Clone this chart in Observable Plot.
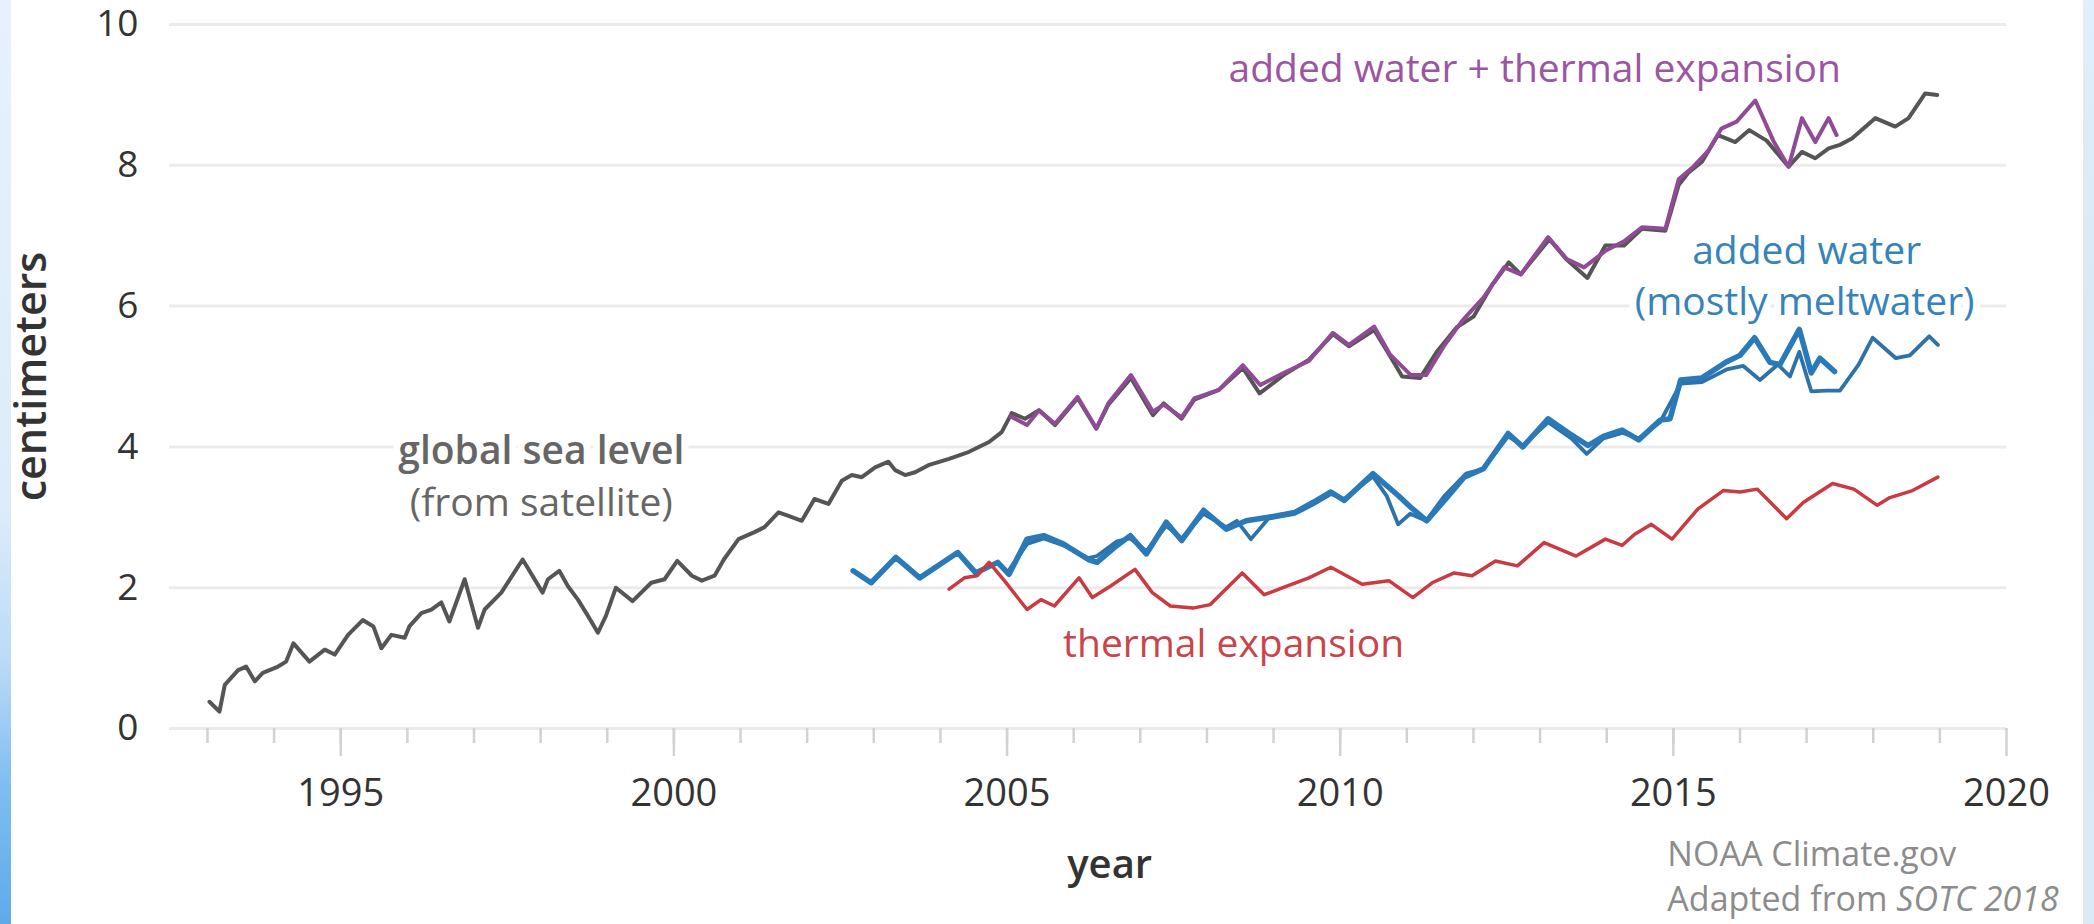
<!DOCTYPE html>
<html>
<head>
<meta charset="utf-8">
<script src="https://cdn.jsdelivr.net/npm/d3@7"></script>
<script src="https://cdn.jsdelivr.net/npm/@observablehq/plot@0.6"></script>
<style>
  html, body { margin: 0; padding: 0; background: #ffffff; }
  #wrap { position: relative; width: 2094px; height: 924px; overflow: hidden; background: #fff; }
  .strip-left { position: absolute; left: 0; top: 0; width: 11px; height: 924px;
    background: linear-gradient(to bottom, #e6f1fb 0%, #dcecfa 55%, #b9daf7 72%, #7fbdf1 85%, #5fa9ec 100%); }
  .strip-right { position: absolute; right: 0; top: 0; width: 11px; height: 924px;
    background: linear-gradient(to bottom, #e2eef9 0%, #d9e8f6 40%, #dde9f6 100%); }
</style>
</head>
<body>
<div id="wrap"></div>
<script>
// ---- data (year, centimeters) ----
const seaLevel = [
  [1993.03,0.38],[1993.18,0.24],[1993.26,0.62],[1993.46,0.83],[1993.58,0.88],[1993.71,0.67],[1993.83,0.79],
  [1994.06,0.88],[1994.18,0.95],[1994.29,1.21],[1994.53,0.95],[1994.76,1.12],[1994.91,1.05],
  [1995.11,1.33],[1995.33,1.54],[1995.49,1.45],[1995.61,1.14],[1995.76,1.33],[1995.96,1.29],
  [1996.03,1.45],[1996.21,1.64],[1996.36,1.69],[1996.51,1.79],[1996.63,1.52],[1996.86,2.12],
  [1997.06,1.43],[1997.16,1.69],[1997.41,1.93],[1997.73,2.40],
  [1998.03,1.93],[1998.11,2.12],[1998.28,2.24],[1998.41,2.02],[1998.56,1.83],[1998.71,1.60],[1998.86,1.36],[1998.98,1.60],
  [1999.13,2.00],[1999.38,1.81],[1999.66,2.07],[1999.86,2.12],
  [2000.05,2.38],[2000.27,2.17],[2000.42,2.10],[2000.61,2.17],[2000.75,2.40],[2000.97,2.69],
  [2001.21,2.79],[2001.36,2.86],[2001.57,3.07],[2001.72,3.02],[2001.92,2.95],
  [2002.11,3.26],[2002.32,3.19],[2002.52,3.52],[2002.67,3.60],[2002.82,3.57],
  [2003.02,3.71],[2003.22,3.79],[2003.32,3.67],[2003.47,3.60],[2003.62,3.64],[2003.82,3.74],
  [2004.13,3.83],[2004.43,3.93],[2004.73,4.07],[2004.92,4.21],
  [2005.07,4.48],[2005.27,4.40],[2005.48,4.52],[2005.72,4.31],[2006.06,4.69],[2006.34,4.26],[2006.52,4.60],[2006.86,4.98],
  [2007.19,4.45],[2007.35,4.62],[2007.62,4.40],[2007.81,4.67],[2008.18,4.81],[2008.54,5.12],[2008.79,4.76],
  [2009.15,5.02],[2009.53,5.24],[2009.89,5.60],[2010.13,5.43],[2010.51,5.66],[2010.75,5.29],[2010.93,5.00],
  [2011.20,4.98],[2011.45,5.35],[2011.75,5.70],[2012.00,5.85],[2012.28,6.30],[2012.53,6.62],[2012.71,6.45],
  [2013.14,6.95],[2013.39,6.67],[2013.71,6.40],[2013.98,6.86],[2014.26,6.86],[2014.53,7.10],[2014.88,7.07],
  [2015.08,7.72],[2015.23,7.90],[2015.43,8.05],[2015.67,8.43],[2015.93,8.33],[2016.14,8.50],[2016.40,8.35],
  [2016.73,7.98],[2016.93,8.19],[2017.13,8.10],[2017.33,8.24],[2017.50,8.29],[2017.68,8.38],
  [2018.03,8.67],[2018.33,8.55],[2018.53,8.67],[2018.78,9.02],[2018.96,9.00]
];
const addedPlusThermal = [
  [2005.06,4.43],[2005.30,4.31],[2005.48,4.52],[2005.72,4.33],[2006.06,4.71],[2006.34,4.26],[2006.52,4.62],[2006.86,5.02],
  [2007.19,4.50],[2007.35,4.60],[2007.62,4.42],[2007.81,4.69],[2008.18,4.81],[2008.54,5.16],[2008.80,4.88],
  [2009.15,5.05],[2009.53,5.22],[2009.89,5.62],[2010.13,5.45],[2010.51,5.71],[2010.75,5.31],[2011.06,5.02],
  [2011.29,5.02],[2011.57,5.45],[2011.83,5.79],[2012.15,6.12],[2012.46,6.55],[2012.71,6.45],[2013.12,6.98],
  [2013.40,6.67],[2013.66,6.55],[2013.99,6.79],[2014.26,6.92],[2014.53,7.12],[2014.88,7.10],[2015.08,7.80],
  [2015.30,7.98],[2015.52,8.20],[2015.72,8.52],[2015.95,8.62],[2016.23,8.92],[2016.51,8.33],[2016.73,7.98],
  [2016.93,8.67],[2017.13,8.33],[2017.33,8.67],[2017.45,8.43]
];
const addedWater = [
  [2002.69,2.24],[2002.96,2.07],[2003.33,2.43],[2003.69,2.14],[2004.26,2.50],[2004.53,2.21],[2004.86,2.36],[2005.03,2.19],
  [2005.30,2.69],[2005.55,2.74],[2005.85,2.62],[2006.22,2.40],[2006.35,2.36],[2006.65,2.60],[2006.85,2.74],
  [2007.09,2.48],[2007.39,2.93],[2007.62,2.67],[2007.95,3.10],[2008.29,2.83],[2008.59,2.95],[2008.92,3.00],
  [2009.32,3.07],[2009.59,3.21],[2009.86,3.36],[2010.06,3.24],[2010.49,3.62],[2010.87,3.31],[2011.05,3.15],
  [2011.30,2.95],[2011.61,3.29],[2011.86,3.57],[2012.15,3.69],[2012.52,4.19],[2012.74,4.00],[2013.12,4.40],
  [2013.47,4.17],[2013.72,4.02],[2013.95,4.15],[2014.23,4.24],[2014.48,4.10],[2014.80,4.38],[2014.95,4.40],
  [2015.11,4.95],[2015.43,4.98],[2015.80,5.21],[2016.00,5.30],[2016.22,5.55],[2016.45,5.20],[2016.60,5.17],
  [2016.89,5.67],[2017.07,5.05],[2017.20,5.26],[2017.42,5.07]
];
const seaMinusThermal = [
  [2005.03,2.25],[2005.30,2.62],[2005.55,2.70],[2005.85,2.60],[2006.22,2.42],[2006.35,2.45],[2006.65,2.66],[2006.85,2.70],
  [2007.09,2.52],[2007.39,2.88],[2007.62,2.70],[2007.95,3.05],[2008.29,2.86],[2008.45,2.95],[2008.66,2.69],[2008.92,2.98],
  [2009.32,3.05],[2009.59,3.18],[2009.86,3.33],[2010.06,3.26],[2010.49,3.58],[2010.70,3.30],[2010.87,2.90],[2011.05,3.05],
  [2011.29,2.95],[2011.57,3.31],[2011.89,3.62],[2012.15,3.69],[2012.52,4.15],[2012.74,4.02],[2013.12,4.35],[2013.47,4.12],
  [2013.70,3.90],[2013.95,4.12],[2014.23,4.20],[2014.48,4.12],[2014.80,4.35],[2015.11,4.90],[2015.43,4.92],[2015.80,5.10],
  [2016.05,5.15],[2016.30,4.95],[2016.57,5.17],[2016.75,5.00],[2016.89,5.35],[2017.07,4.79],[2017.30,4.80],[2017.50,4.80],
  [2017.78,5.17],[2017.99,5.55],[2018.34,5.26],[2018.55,5.30],[2018.84,5.57],[2018.97,5.45]
];
const thermal = [
  [2004.13,1.98],[2004.36,2.14],[2004.55,2.17],[2004.73,2.36],[2004.96,2.10],[2005.30,1.69],[2005.51,1.83],[2005.71,1.74],
  [2006.08,2.14],[2006.28,1.86],[2006.55,2.02],[2006.92,2.26],[2007.18,1.93],[2007.45,1.74],[2007.79,1.71],[2008.05,1.76],
  [2008.53,2.21],[2008.86,1.90],[2009.19,2.02],[2009.53,2.14],[2009.86,2.29],[2010.33,2.05],[2010.73,2.10],[2011.09,1.86],
  [2011.38,2.07],[2011.71,2.21],[2011.98,2.17],[2012.33,2.38],[2012.66,2.31],[2013.06,2.64],[2013.54,2.45],[2013.98,2.69],
  [2014.23,2.60],[2014.42,2.76],[2014.67,2.90],[2014.98,2.69],[2015.37,3.12],[2015.75,3.38],[2016.00,3.36],[2016.26,3.40],
  [2016.70,2.98],[2016.95,3.21],[2017.39,3.48],[2017.71,3.40],[2018.06,3.17],[2018.25,3.28],[2018.59,3.38],[2018.97,3.57]
];
const yTicks = [0, 2, 4, 6, 8, 10];
const xMajorTicks = [1995, 2000, 2005, 2010, 2015, 2020];
const xMinorTicks = d3.range(1993, 2020);

// annotation labels in data coordinates
const seriesLabels = [
  {text: "added water + thermal expansion", x: 2012.92, y: 9.36, color: "#9c55a3", weight: 400},
  {text: "added water", x: 2017.0, y: 6.78, color: "#3683bb", weight: 400},
  {text: "(mostly meltwater)", x: 2016.97, y: 6.05, color: "#3683bb", weight: 400},
  {text: "global sea level", x: 1998.01, y: 3.93, color: "#666666", weight: 600},
  {text: "(from satellite)", x: 1998.01, y: 3.20, color: "#666666", weight: 400},
  {text: "thermal expansion", x: 2008.40, y: 1.19, color: "#c8454c", weight: 400}
];
const captionLines = ["NOAA Climate.gov", "Adapted from SOTC 2018"];

const FONT = "'Open Sans', 'DejaVu Sans', sans-serif";
const px = d => d[0], py = d => d[1];

const chart = Plot.plot({
  width: 2094,
  height: 924,
  marginTop: 24,
  marginBottom: 196,
  marginLeft: 169,
  marginRight: 88,
  style: {fontFamily: FONT, background: "transparent", color: "#333"},
  x: {domain: [1992.43, 2020]},
  y: {domain: [0, 10]},
  marks: [
    Plot.ruleY(yTicks, {stroke: "#ebebeb", strokeWidth: 3}),
    Plot.axisX(xMinorTicks, {tickSize: 15, text: null, stroke: "#d2d2d2", strokeWidth: 2.5, label: null}),
    Plot.axisX(xMajorTicks, {tickSize: 28, tickPadding: 23, stroke: "#d2d2d2", strokeWidth: 2.5,
      fontSize: 38, fill: "#333", tickFormat: d => String(d), label: null}),
    Plot.axisY(yTicks, {tickSize: 0, tickPadding: 31, fontSize: 37, fill: "#333", label: null,
      tickFormat: d => String(d)}),
    Plot.text(["year"], {x: 2006.54, frameAnchor: "bottom", dy: 149, fontSize: 40, fontWeight: 600, fill: "#333"}),
    Plot.text(["centimeters"], {frameAnchor: "left", textAnchor: "middle", dx: -137, rotate: -90,
      fontSize: 43, fontWeight: 600, fill: "#333"}),
    Plot.text(seriesLabels.filter(d => d.weight === 400), {x: "x", y: "y", text: "text", fill: "color", fontSize: 39,
      stroke: "white", strokeWidth: 14}),
    Plot.text(seriesLabels.filter(d => d.weight === 600), {x: "x", y: "y", text: "text", fill: "color", fontSize: 39,
      fontWeight: 600, stroke: "white", strokeWidth: 14}),
    Plot.line(seaLevel, {x: px, y: py, stroke: "#555555", strokeWidth: 4}),
    Plot.line(addedPlusThermal, {x: px, y: py, stroke: "#904a96", strokeWidth: 4}),
    Plot.line(seaMinusThermal, {x: px, y: py, stroke: "#2d72a8", strokeWidth: 3.8}),
    Plot.line(addedWater, {x: px, y: py, stroke: "#2a79b8", strokeWidth: 5.5}),
    Plot.line(thermal, {x: px, y: py, stroke: "#c93a41", strokeWidth: 3.5}),
    Plot.text(captionLines, {x: 2014.91, frameAnchor: "bottom", textAnchor: "start",
      fontSize: 34, fill: "#8c8c8c", lineAnchor: "middle"})
  ]
});

// position caption lines and italicize "SOTC 2018"
chart.querySelectorAll("text").forEach(t => {
  if (t.textContent === "NOAA Climate.gov") {
    t.setAttribute("transform", (t.getAttribute("transform") || "") + " translate(0,127)");
  } else if (t.textContent === "Adapted from SOTC 2018") {
    t.setAttribute("transform", (t.getAttribute("transform") || "") + " translate(0,172)");
    t.textContent = "Adapted from ";
    const ts = document.createElementNS("http://www.w3.org/2000/svg", "tspan");
    ts.setAttribute("font-style", "italic");
    ts.textContent = "SOTC 2018";
    t.appendChild(ts);
  }
});

const wrap = document.getElementById("wrap");
wrap.appendChild(chart);
const l = document.createElement("div"); l.className = "strip-left"; wrap.appendChild(l);
const r = document.createElement("div"); r.className = "strip-right"; wrap.appendChild(r);
</script>
</body>
</html>
